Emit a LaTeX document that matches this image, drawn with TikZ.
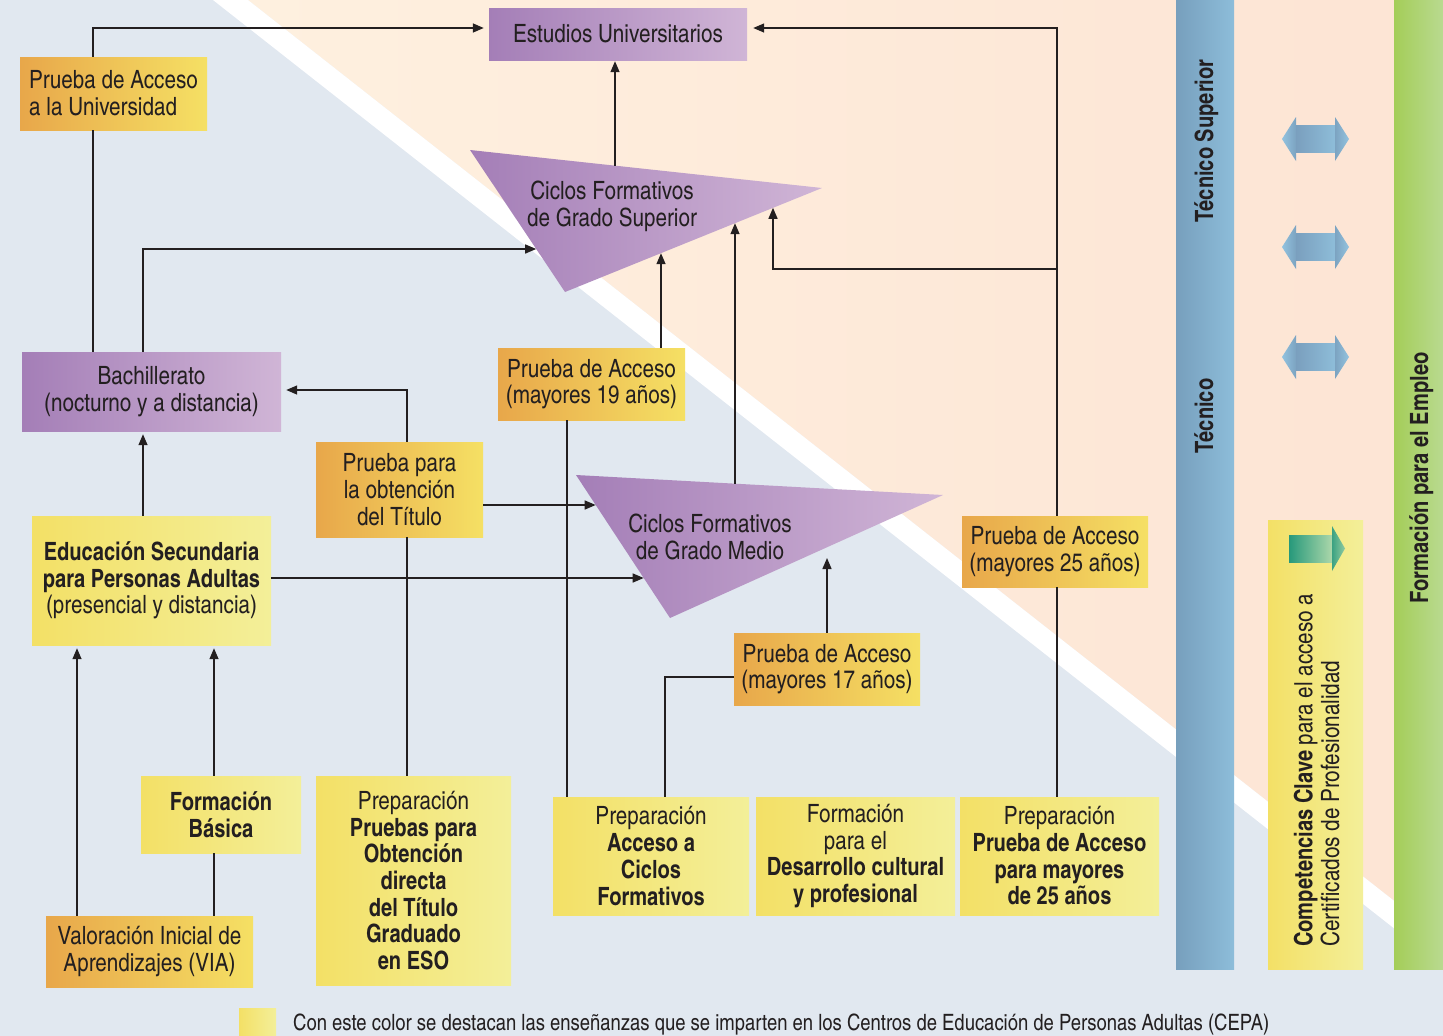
\documentclass[tikz,border=0pt]{standalone}
\usepackage{fontspec}
\setmainfont{texgyreheroscn}[Extension=.otf,UprightFont=*-regular,BoldFont=*-bold,ItalicFont=*-italic,BoldItalicFont=*-bolditalic,BoldFeatures={FakeStretch=0.972}]
\usetikzlibrary{arrows.meta,calc}
\definecolor{bgblue}{HTML}{E1E8F0}
\definecolor{peachA}{HTML}{FEF0DF}
\definecolor{peachB}{HTML}{FDE4D4}
\definecolor{purA}{HTML}{A47EB7}
\definecolor{purB}{HTML}{D0B5D6}
\definecolor{orA}{HTML}{E8A74A}
\definecolor{orB}{HTML}{F5E064}
\definecolor{yeA}{HTML}{F3E066}
\definecolor{yeB}{HTML}{F3EF99}
\definecolor{bluA}{HTML}{779FBD}
\definecolor{bluB}{HTML}{8DBDDA}
\definecolor{grA}{HTML}{A4CD58}
\definecolor{grB}{HTML}{B9DA90}
\definecolor{ink}{HTML}{231F20}
\definecolor{tealA}{HTML}{27997B}
\definecolor{tealB}{HTML}{ABD7AA}
\definecolor{darA}{HTML}{7A9FBE}
\definecolor{darB}{HTML}{8EBDD9}
\definecolor{hdA}{HTML}{93C3DF}
\definecolor{hdB}{HTML}{7CA3C1}
\newcommand\fsz{\fontsize{25.2}{26.7}\selectfont}
\tikzset{
 txt/.style={inner sep=0pt, align=center, text=ink, font=\fsz},
 purbox/.style={txt, left color=purA, right color=purB},
 orbox/.style={txt, left color=orA, right color=orB},
 yebox/.style={txt, left color=yeA, right color=yeB},
 conn/.style={draw=ink, line width=1.4pt},
 arr/.style={conn, -{Triangle[length=11pt,width=9pt]}},
}
\begin{document}
\begin{tikzpicture}[x=1pt,y=-1pt]
\useasboundingbox (0,0) rectangle (1443,1036);
% background
\fill[bgblue] (0,0) rectangle (1443,1036);
\shade[left color=peachA, right color=peachB] (248,0) -- (1443,0) -- (1443,939.3) -- cycle;
\fill[white] (213,0) -- (248,0) -- (1443,939.3) -- (1443,966.8) -- cycle;
% right strips
\shade[left color=bluA, right color=bluB] (1176,0) rectangle (1234,969);
\shade[left color=grA, right color=grB] (1394,0) rectangle (1443,969);
% triangles
\coordinate (sA) at (470,150); \coordinate (sB) at (822,188); \coordinate (sC) at (565,292);
\shade[left color=purA, right color=purB] (sA) -- (sB) -- (sC) -- cycle;
\node[txt] (sup) at (612,206.5) {Ciclos Formativos\\de Grado Superior};
\coordinate (mA) at (576,475); \coordinate (mB) at (943,495); \coordinate (mC) at (670,618);
\shade[left color=purA, right color=purB] (mA) -- (mB) -- (mC) -- cycle;
\node[txt] (med) at (710,537) {Ciclos Formativos\\de Grado Medio};
% boxes
\node[purbox, minimum width=258pt, minimum height=52pt] (est) at (618,34) {Estudios Universitarios};
\node[orbox, align=left, minimum width=187pt, minimum height=73pt] (pau) at (113.5,93.5) {Prueba de Acceso\\a la Universidad};
\node[purbox, minimum width=259pt, minimum height=79pt] (bach) at (151.5,391.5) {Bachillerato\\(nocturno y a distancia)};
\node[orbox, minimum width=167pt, minimum height=95pt] (pt) at (399.5,489.5) {Prueba para\\la obtención\\del Título};
\node[orbox, minimum width=187pt, minimum height=72pt] (p19) at (591.5,384) {Prueba de Acceso\\(mayores 19 años)};
\node[orbox, minimum width=186pt, minimum height=71pt] (p25) at (1055,551.5) {Prueba de Acceso\\(mayores 25 años)};
\node[orbox, minimum width=186pt, minimum height=72pt] (p17) at (827,669) {Prueba de Acceso\\(mayores 17 años)};
\node[yebox, minimum width=239pt, minimum height=129pt] (eso) at (151.5,580.5) {\textbf{Educación Secundaria}\\\textbf{para Personas Adultas}\\(presencial y distancia)};
\node[yebox, minimum width=160pt, minimum height=77pt] (fb) at (221,814.5) {\textbf{Formación}\\\textbf{Básica}};
\node[orbox, minimum width=207pt, minimum height=71pt] (via) at (149.5,951.5) {Valoración Inicial de\\Aprendizajes (VIA)};
\node[yebox, minimum width=195pt, minimum height=209pt] (prep1) at (413.5,880.5) {Preparación\\\textbf{Pruebas para}\\\textbf{Obtención}\\\textbf{directa}\\\textbf{del Título}\\\textbf{Graduado}\\\textbf{en ESO}};
\node[yebox, minimum width=196pt, minimum height=118pt] (prep2) at (651,856) {Preparación\\\textbf{Acceso a}\\\textbf{Ciclos}\\\textbf{Formativos}};
\node[yebox, minimum width=199pt, minimum height=118pt] (fdc) at (855.5,856) {Formación\\para el\\\textbf{Desarrollo cultural}\\\textbf{y profesional}};
\node[yebox, minimum width=199pt, minimum height=118pt] (prep3) at (1059.5,856) {Preparación\\\textbf{Prueba de Acceso}\\\textbf{para mayores}\\\textbf{de 25 años}};
% helper coordinates
\coordinate (c93) at (93,28);
\coordinate (c143) at (143,249);
\coordinate (sL) at (536.2,249);
\coordinate (c407) at (407,390);
\coordinate (c77) at (77,700);
\coordinate (c214) at (214,700);
\coordinate (c567) at (567,600);
\coordinate (s661) at (661,253.2);
\coordinate (c665) at (665,677);
\coordinate (m827) at (827,558);
\coordinate (mT) at (735,483.7);
\coordinate (s735) at (735,223.2);
\coordinate (sT) at (615,165.7);
\coordinate (c1057) at (1057,28);
\coordinate (j269) at (1057,269);
\coordinate (s773) at (773,207.8);
\coordinate (m505) at (595.7,505);
\coordinate (m578) at (643.7,578);
% connectors
\draw[conn] (bach.north -| c93) -- (pau.south -| c93);
\draw[arr, shorten >=5pt] (pau.north -| c93) -- (c93) -- (est.west |- c93);
\draw[arr] (bach.north -| c143) -- (c143) -- (sL);
\draw[arr, shorten >=3pt] (eso.north -| c143) -- (bach.south -| c143);
\draw[conn] (prep1.north -| c407) -- (pt.south -| c407);
\draw[arr, shorten >=5pt] (pt.north -| c407) -- (c407) -- (bach.east |- c407);
\draw[arr, shorten >=3pt] (via.north -| c77) -- (eso.south -| c77);
\draw[conn] (via.north -| c214) -- (fb.south -| c214);
\draw[arr, shorten >=3pt] (fb.north -| c214) -- (eso.south -| c214);
\draw[conn] (prep2.north -| c567) -- (p19.south -| c567);
\draw[arr] (p19.north -| s661) -- (s661);
\draw[conn] (prep2.north -| c665) -- (c665) -- (p17.west |- c665);
\draw[arr] (p17.north -| m827) -- (m827);
\draw[arr] (mT) -- (s735);
\draw[arr, shorten >=1pt] (sT) -- (est.south -| sT);
\draw[conn] (prep3.north -| c1057) -- (p25.south -| c1057);
\draw[arr, shorten >=6pt] (p25.north -| c1057) -- (c1057) -- (est.east |- c1057);
\draw[arr] (j269) -- (j269 -| s773) -- (s773);
\draw[arr] (pt.east |- m505) -- (m505);
\draw[arr] (eso.east |- m578) -- (m578);
% right side
\node[yebox, minimum width=95pt, minimum height=449pt] (comp) at (1315.5,744.5) {};
\node[txt, rotate=90, anchor=base west, align=left] (ct) at (1339,947) {\textbf{Competencias Clave} para el acceso a\\Certificados de Profesionalidad};
\shade[left color=tealA, right color=tealB] (1289,535) rectangle (1332,562);
\shade[left color=tealA!85!tealB, right color=tealB!80!tealA] (1332,526) -- (1345,548.5) -- (1332,571) -- cycle;
\foreach \c in {139,247,357} {
  \shade[left color=darA, right color=darB] (1296,\c-13.5) rectangle (1335,\c+13.5);
  \shade[left color=hdA, right color=hdB] (1282,\c) -- (1296,\c-22) -- (1296,\c+22) -- cycle;
  \shade[left color=hdB, right color=hdA] (1335,\c-22) -- (1349,\c) -- (1335,\c+22) -- cycle;
}
\node[txt, rotate=90, anchor=base, font=\fsz\bfseries] (ts) at (1213,141) {Técnico Superior};
\node[txt, rotate=90, anchor=base, font=\fsz\bfseries] (tt) at (1213,416) {Técnico};
\node[txt, rotate=90, anchor=base, font=\fsz\bfseries] (fe) at (1428,478) {Formación para el Empleo};
% legend
\node[yebox, minimum width=37pt, minimum height=30pt] (leg) at (257.5,1023) {};
\node[txt, anchor=base west, font=\fontsize{22.5}{26}\selectfont] (legt) at (293,1030) {Con este color se destacan las enseñanzas que se imparten en los Centros de Educación de Personas Adultas (CEPA)};
\end{tikzpicture}
\end{document}
